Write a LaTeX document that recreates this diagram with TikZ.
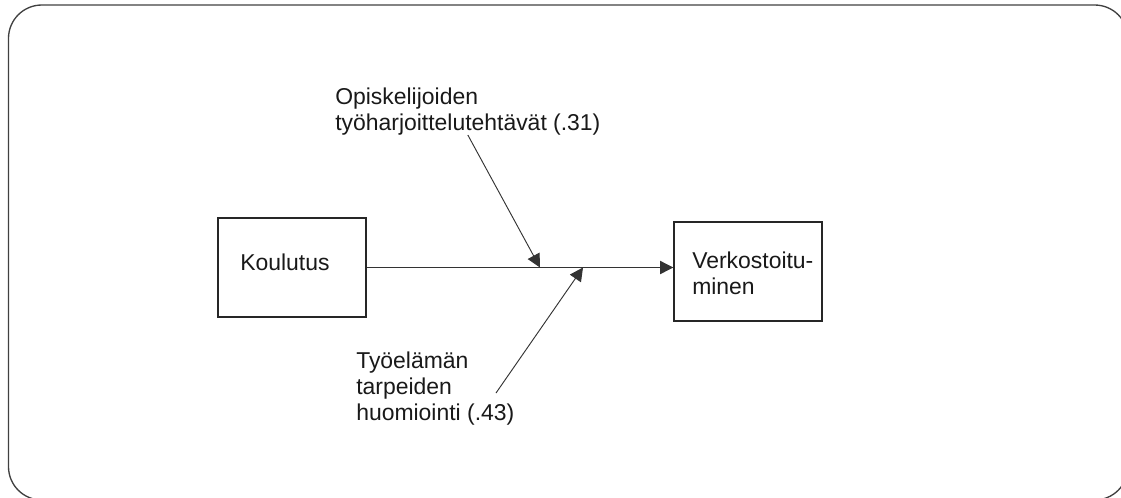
\documentclass[tikz,border=0pt]{standalone}
\usepackage{fontspec}
\setmainfont{Liberation Sans}
\usetikzlibrary{arrows.meta}
\begin{document}
\begin{tikzpicture}[x=0.75pt, y=-0.75pt,
    box/.style={draw=black!85, line width=1pt, minimum width=111pt, minimum height=74.25pt, inner sep=0pt},
    lbl/.style={inner sep=0pt, anchor=base west, align=left, text=black!90, font=\fontsize{17.2}{19.5}\selectfont},
    link/.style={-{Triangle[length=10pt, width=10pt]}, line width=0.7pt, draw=black!80}]
    \useasboundingbox (0,0) rectangle (1121,497);
    \clip (0,0) rectangle (1121,497);
    %Frame
    \draw[black!75, line width=1pt, rounded corners=25pt] (8.5,5) rectangle (1128,500);
    
    %Nodes
    \node[box] at (292, 267.5) (koul) {};
    \node[box] at (748, 271.5) (verk) {};
    \node[lbl] at (240, 270) (koultxt) {Koulutus};
    \node[lbl] at (692, 294) (verktxt) {Verkostoitu-\\minen};
    \node[lbl] at (335, 130) (opis) {Opiskelijoiden\\työharjoittelutehtävät (.31)};
    \node[lbl] at (356, 420) (tyo) {Työelämän\\tarpeiden\\huomiointi (.43)};
    \coordinate (m1) at (540, 267.5);
    \coordinate (m2) at (583, 267.5);
    \coordinate (s2) at (496, 393);
    
    %Lines
    \draw[link] (koul.east) -- (verk.west |- koul.east);
    \draw[link] (opis.south) -- (m1);
    \draw[link] (s2) -- (m2);
    
\end{tikzpicture}
\end{document}
